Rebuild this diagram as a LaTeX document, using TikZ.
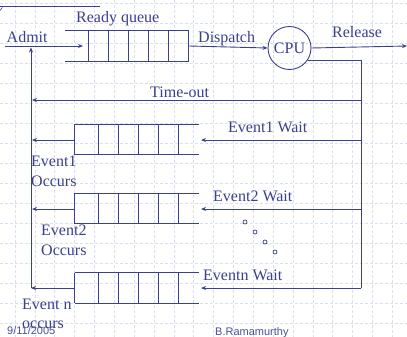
\documentclass[tikz,border=0pt]{standalone}
\usepackage{fontspec}
\setmainfont{Liberation Serif}
\setsansfont{Liberation Sans}
\usetikzlibrary{arrows.meta,calc}
\definecolor{ink}{HTML}{3A3F8F}
\definecolor{gridc}{HTML}{D8DFF3}
\definecolor{foot}{HTML}{4A5096}
\begin{document}
\begin{tikzpicture}[x=1pt,y=-1pt,
  line/.style={draw=ink, line width=0.9pt},
  arr/.style={line, -{Stealth[length=5pt,width=4pt]}},
  lbl/.style={text=ink, font=\fontsize{16}{20}\selectfont, inner sep=0pt, anchor=base west},
  foottxt/.style={text=foot, font=\sffamily\fontsize{11}{13}\selectfont, inner sep=0pt, anchor=base west},
  qbox/.style={inner sep=0pt, minimum width=124pt, minimum height=30pt},
  dot/.style={draw=ink, line width=0.7pt, circle, inner sep=0pt, minimum size=4pt}]
\useasboundingbox (0,0) rectangle (407,337);
% background grid
\foreach \i in {0,...,19} \draw[gridc, line width=0.5pt, dash pattern=on 3pt off 2pt] ({15+\i*19.85},0) -- ({15+\i*19.85},337);
\foreach \j in {0,...,16} \draw[gridc, line width=0.5pt, dash pattern=on 3pt off 2pt] (0,{3+\j*20}) -- (407,{3+\j*20});
% slide decoration
\draw[ink, line width=0.8pt] (0,6) -- (100,6);
\draw[ink, line width=0.6pt] (0,10.5) -- (2.5,7.5);

% ready queue (open left, closed right)
\node[qbox] (rq) at (127,46) {};
\draw[line] (rq.north west) -- (rq.north east) (rq.south west) -- (rq.south east);
\foreach \x in {24,44,64,84,104,124} \draw[line] ($(rq.north west)+(\x,0)$) -- ($(rq.south west)+(\x,0)$);
\node[lbl] (rqlbl) at (76,23) {Ready queue};

% event queues (closed left, open right)
\node[qbox] (q1) at (137,139.5) {};
\node[qbox] (q2) at (137,208.5) {};
\node[qbox] (qn) at (137,288) {};
\foreach \q in {q1,q2,qn}{
  \draw[line] (\q.north west) -- (\q.north east) (\q.south west) -- (\q.south east);
  \foreach \x in {0,24,44,64,84,104} \draw[line] ($(\q.north west)+(\x,0)$) -- ($(\q.south west)+(\x,0)$);
}

% CPU
\node[draw=ink, line width=0.9pt, circle, minimum size=43pt, inner sep=0pt, text=ink, font=\fontsize{16}{20}\selectfont] (cpu) at (289.5,48) {CPU};

% coordinates
\coordinate (admitA) at (5,46);
\coordinate (admitB) at (83,46);
\coordinate (relEnd) at (407,46);
\coordinate (rBot) at (361,288);
\coordinate (rTO) at (361,100);
\coordinate (r1) at (361,140);
\coordinate (r2) at (361,209);
\coordinate (lTO) at (32,100);
\coordinate (l1) at (32,140);
\coordinate (l2) at (32,209);
\coordinate (lBot) at (31,288);
\coordinate (lTop) at (31,47.5);
\coordinate (w1) at (201,140);
\coordinate (w2) at (201,209);
\coordinate (wn) at (201,288);

% connectors
\draw[arr] (admitA) -- (admitB);
\draw[arr] (rq.east) -- (cpu.west);
\draw[arr] (cpu.east) -- (relEnd);
\draw[line] (cpu.-34) -| (rBot);
\draw[arr] (rTO) -- (lTO);
\draw[arr] (r1) -- (w1);
\draw[arr] (r2) -- (w2);
\draw[arr] (rBot) -- (wn);
\draw[arr] (q1.west |- l1) -- (l1);
\draw[arr] (q2.west |- l2) -- (l2);
\draw[arr] (qn.west) -- (lBot);
\draw[arr] (lBot) -- (lTop);

% labels
\node[lbl] (admit) at (6.5,43) {Admit};
\node[lbl] (disp) at (198,43) {Dispatch};
\node[lbl] (rel) at (332,38) {Release};
\node[lbl] (to) at (150,97) {Time-out};
\node[lbl] (e1w) at (228,132) {Event1 Wait};
\node[lbl] (e2w) at (213,201) {Event2 Wait};
\node[lbl] (enw) at (203,280) {Eventn Wait};
\node[lbl] (e1o) at (31,166) {Event1};
\node[lbl] (e1o2) at (31,186) {Occurs};
\node[lbl] (e2o) at (41,235) {Event2};
\node[lbl] (e2o2) at (41,255) {Occurs};
\node[lbl] (eno) at (22,309) {Event n};
\node[lbl] (eno2) at (22,328) {occurs};

% dots
\node[dot] (d1) at (245,222) {};
\node[dot] (d2) at (255,232) {};
\node[dot] (d3) at (265,242) {};
\node[dot] (d4) at (275,252) {};

% footer
\node[foottxt] (date) at (7,334.5) {9/11/2005};
\node[foottxt] (auth) at (215,335) {B.Ramamurthy};
\end{tikzpicture}
\end{document}
